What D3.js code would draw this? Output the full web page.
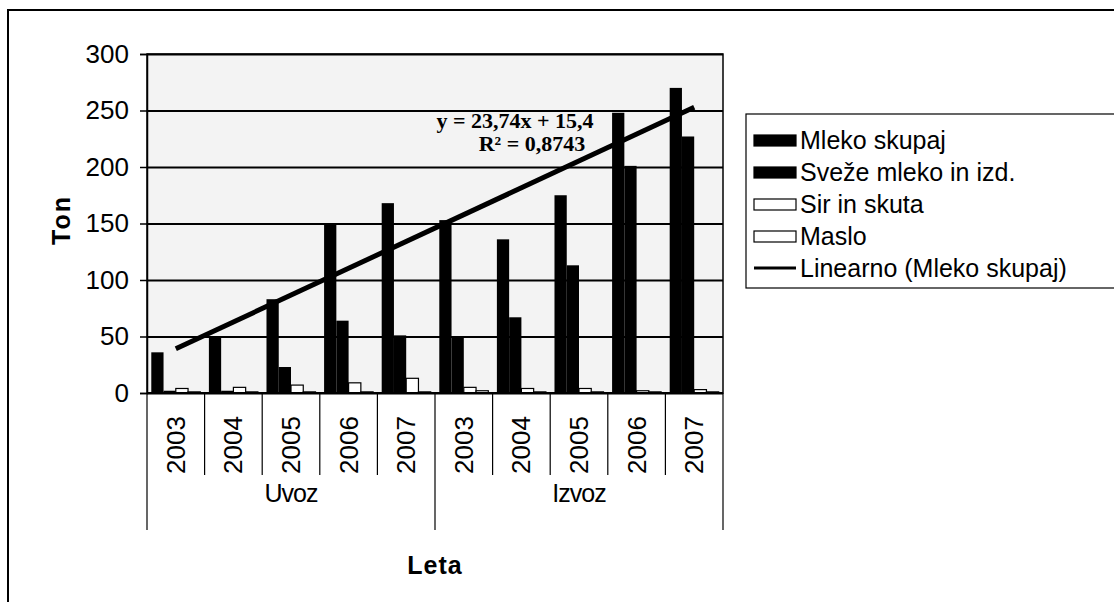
<!DOCTYPE html>
<html>
<head>
<meta charset="utf-8">
<script src="https://cdn.jsdelivr.net/npm/d3@7"></script>
<style>
  body { margin: 0; background: #fff; }
  text { font-family: "Liberation Sans", Arial, sans-serif; fill: #000; }
</style>
</head>
<body>
<script>
// chart data
var groups = ["Uvoz", "Izvoz"];
var years = ["2003", "2004", "2005", "2006", "2007"];
var seriesNames = ["Mleko skupaj", "Sveže mleko in izd.", "Sir in skuta", "Maslo"];
var mleko = [36, 49, 83, 150, 168, 153, 136, 175, 248, 270];
var svezeMleko = [2, 2, 23, 64, 51, 49, 67, 113, 201, 227];
var sir = [4, 5, 7, 9, 13, 5, 4, 4, 2, 3];
var maslo = [1, 1, 1, 1, 1, 2, 1, 1, 1, 1];
var yTicks = [0, 50, 100, 150, 200, 250, 300];
var trendSlope = 23.74, trendIntercept = 15.4;
var trendLabel = "y = 23,74x + 15,4";
var r2Label = "R² = 0,8743";
var trendName = "Linearno (Mleko skupaj)";

var seriesValues = [mleko, svezeMleko, sir, maslo];
var seriesFill = ["#000", "#000", "#fff", "#fff"];

// window size
var width = 1114,
    height = 602;

var svg = d3.select("body")
    .append("svg")
    .attr("width", width)
    .attr("height", height);

// outer frame of the scanned chart
svg.append("rect")
    .attr("x", 8).attr("y", 10)
    .attr("width", 1130).attr("height", 620)
    .attr("fill", "none")
    .attr("stroke", "#000")
    .attr("stroke-width", 2);

var plot = {left: 147, right: 723, top: 54, bottom: 393};

// one category per group/year pair
var cats = [];
groups.forEach(function(g){
    years.forEach(function(y){ cats.push(g + "-" + y); });
});

var x0 = d3.scaleBand()
    .domain(cats)
    .range([plot.left, plot.right]);

var x1 = d3.scaleBand()
    .domain(d3.range(seriesNames.length))
    .range([0, x0.bandwidth()])
    .paddingOuter(0.35);

var y = d3.scaleLinear()
    .domain([0, 300])
    .range([plot.bottom, plot.top]);

// plot background
svg.append("rect")
    .attr("x", plot.left).attr("y", plot.top)
    .attr("width", plot.right - plot.left)
    .attr("height", plot.bottom - plot.top)
    .attr("fill", "#f3f3f3")
    .attr("stroke", "#000")
    .attr("stroke-width", 1.5);

// gridlines
svg.append("g")
    .attr("transform", "translate(" + plot.left + ",0)")
    .call(d3.axisLeft(y).tickValues(yTicks).tickSize(-(plot.right - plot.left)).tickFormat(""))
    .call(function(g){
        g.select(".domain").remove();
        g.selectAll("line").attr("stroke", "#000").attr("stroke-width", 2);
    });

// y axis
svg.append("g")
    .attr("transform", "translate(" + plot.left + ",0)")
    .call(d3.axisLeft(y).tickValues(yTicks).tickSize(7).tickPadding(11))
    .call(function(g){
        g.select(".domain").attr("stroke", "#000").attr("stroke-width", 1.5);
        g.selectAll("line").attr("stroke", "#000").attr("stroke-width", 1.5);
        g.selectAll("text")
            .style("font-family", "Liberation Sans, Arial, sans-serif")
            .style("font-size", "26px");
    });

// bars
seriesValues.forEach(function(vals, s){
    svg.append("g")
        .selectAll("rect")
        .data(vals)
        .enter()
        .append("rect")
        .attr("x", function(d, i){ return x0(cats[i]) + x1(s); })
        .attr("y", function(d){ return y(d); })
        .attr("width", x1.bandwidth())
        .attr("height", function(d){ return y(0) - y(d); })
        .attr("fill", seriesFill[s])
        .attr("stroke", "#000")
        .attr("stroke-width", s > 1 ? 1.2 : 0);
});

// trendline of Mleko skupaj
var trend = d3.line()
    .x(function(d){ return x0(cats[d]) + x0.bandwidth() / 2; })
    .y(function(d){ return y(trendSlope * (d + 1) + trendIntercept); });

svg.append("path")
    .attr("d", trend([0, cats.length - 1]))
    .attr("fill", "none")
    .attr("stroke", "#000")
    .attr("stroke-width", 5);

svg.append("text")
    .attr("x", 515).attr("y", 128)
    .attr("text-anchor", "middle")
    .style("font-family", "Liberation Serif, Times New Roman, serif")
    .style("font-weight", "bold")
    .style("font-size", "22px")
    .text(trendLabel);

svg.append("text")
    .attr("x", 532).attr("y", 151)
    .attr("text-anchor", "middle")
    .style("font-family", "Liberation Serif, Times New Roman, serif")
    .style("font-weight", "bold")
    .style("font-size", "22px")
    .text(r2Label);

// category axis: year dividers and group dividers
var tickEnd = 475, groupEnd = 530;
svg.append("line")
    .attr("x1", plot.left).attr("x2", plot.right)
    .attr("y1", plot.bottom).attr("y2", plot.bottom)
    .attr("stroke", "#000").attr("stroke-width", 2);

svg.append("g")
    .selectAll("line")
    .data(cats)
    .enter()
    .append("line")
    .attr("x1", function(d){ return x0(d); })
    .attr("x2", function(d){ return x0(d); })
    .attr("y1", plot.bottom)
    .attr("y2", function(d, i){ return i % years.length === 0 ? groupEnd : tickEnd; })
    .attr("stroke", "#000").attr("stroke-width", 1.2);

svg.append("line")
    .attr("x1", plot.right).attr("x2", plot.right)
    .attr("y1", plot.bottom).attr("y2", groupEnd)
    .attr("stroke", "#000").attr("stroke-width", 1.2);

svg.append("g")
    .selectAll("text")
    .data(cats)
    .enter()
    .append("text")
    .attr("transform", function(d){
        return "translate(" + (x0(d) + x0.bandwidth() / 2 + 9) + "," + 445 + ") rotate(-90)";
    })
    .attr("text-anchor", "middle")
    .style("font-size", "26px")
    .text(function(d){ return d.split("-")[1]; });

svg.append("g")
    .selectAll("text")
    .data(groups)
    .enter()
    .append("text")
    .attr("x", function(d, i){
        var first = x0(cats[i * years.length]);
        var last = x0(cats[(i + 1) * years.length - 1]) + x0.bandwidth();
        return (first + last) / 2;
    })
    .attr("y", 502)
    .attr("text-anchor", "middle")
    .style("font-size", "25px")
    .style("letter-spacing", "-1px")
    .text(function(d){ return d; });

// axis titles
svg.append("text")
    .attr("x", 435).attr("y", 574)
    .attr("text-anchor", "middle")
    .style("font-weight", "bold")
    .style("font-size", "25px")
    .style("letter-spacing", "1px")
    .text("Leta");

svg.append("text")
    .attr("transform", "translate(70,220) rotate(-90)")
    .attr("text-anchor", "middle")
    .style("font-weight", "bold")
    .style("font-size", "25px")
    .style("letter-spacing", "2px")
    .text("Ton");

// legend
var legend = svg.append("g");
legend.append("rect")
    .attr("x", 746).attr("y", 114)
    .attr("width", 400).attr("height", 174)
    .attr("fill", "#fff")
    .attr("stroke", "#000")
    .attr("stroke-width", 1.2);

var legendItems = seriesNames.concat([trendName]);
var ly = d3.scalePoint()
    .domain(legendItems)
    .range([140, 268]);

legendItems.forEach(function(name, i){
    if (i < seriesNames.length) {
        legend.append("rect")
            .attr("x", 754).attr("y", ly(name) - 5)
            .attr("width", 42).attr("height", 11)
            .attr("fill", seriesFill[i])
            .attr("stroke", "#000")
            .attr("stroke-width", 1.2);
    } else {
        legend.append("line")
            .attr("x1", 754).attr("x2", 796)
            .attr("y1", ly(name)).attr("y2", ly(name))
            .attr("stroke", "#000").attr("stroke-width", 3);
    }
    legend.append("text")
        .attr("x", 800).attr("y", ly(name) + 9)
        .style("font-size", "25px")
        .text(name);
});
</script>
</body>
</html>
